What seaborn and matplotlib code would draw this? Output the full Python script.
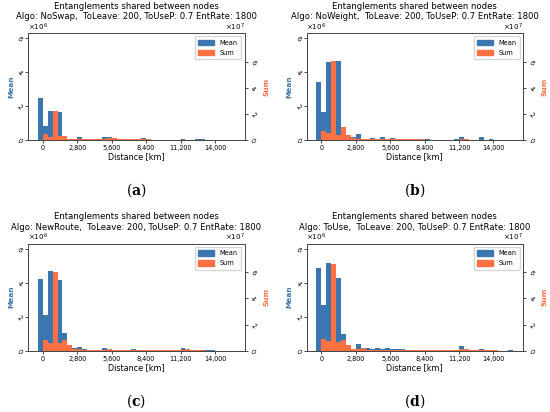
import numpy as np
import pandas as pd
import matplotlib
matplotlib.use("Agg")
import matplotlib.pyplot as plt
import seaborn as sns
from matplotlib.patches import Patch
from matplotlib.ticker import FuncFormatter

# ---------------- data ----------------
bin_width = 400
bin_edges = [float(v) for v in np.arange(-400, 15600 + 1, bin_width)]   # 40 bins
bin_centers = [e + bin_width / 2 for e in bin_edges[:-1]]

x_ticks = [0, 2800, 5600, 8400, 11200, 14000]

algos = ["NoSwap", "NoWeight", "NewRoute", "ToUse"]
panel_tags = ["a", "b", "c", "d"]

# Mean (x1e6) per 400 km bin
mean_noswap = [2.45, 0.82, 1.70, 1.65, 1.66, 0.10, 0.05, 0.08, 0.16, 0.04,
               0.06, 0.08, 0.03, 0.15, 0.15, 0.06, 0.06, 0.04, 0.05, 0.07,
               0.02, 0.12, 0.03, 0.02, 0.02, 0.02, 0.01, 0.01, 0.02, 0.03,
               0.02, 0.02, 0.08, 0.04, 0.01, 0.02, 0.01, 0.00, 0.00, 0.00]
mean_noweight = [3.40, 1.62, 4.58, 4.40, 4.68, 0.30, 0.20, 0.20, 0.38, 0.05,
                 0.06, 0.10, 0.05, 0.15, 0.05, 0.12, 0.04, 0.05, 0.04, 0.03,
                 0.03, 0.03, 0.03, 0.02, 0.02, 0.02, 0.02, 0.02, 0.03, 0.15,
                 0.03, 0.02, 0.02, 0.15, 0.02, 0.03, 0.01, 0.00, 0.00, 0.00]
mean_newroute = [4.20, 2.09, 4.66, 4.50, 4.13, 1.05, 0.20, 0.16, 0.24, 0.08,
                 0.06, 0.06, 0.03, 0.17, 0.08, 0.06, 0.05, 0.05, 0.04, 0.08,
                 0.02, 0.02, 0.02, 0.02, 0.02, 0.02, 0.02, 0.02, 0.02, 0.17,
                 0.04, 0.02, 0.02, 0.05, 0.02, 0.02, 0.01, 0.01, 0.00, 0.00]
mean_touse = [4.88, 2.66, 5.15, 4.90, 4.25, 1.00, 0.15, 0.12, 0.40, 0.10,
              0.14, 0.08, 0.14, 0.10, 0.14, 0.08, 0.12, 0.08, 0.06, 0.06,
              0.04, 0.05, 0.04, 0.03, 0.03, 0.03, 0.02, 0.02, 0.03, 0.27,
              0.06, 0.02, 0.04, 0.08, 0.02, 0.04, 0.06, 0.01, 0.00, 0.03]

# Sum (x1e7) per 400 km bin
sum_noswap = [0.00, 0.45, 0.25, 2.25, 0.30, 0.30, 0.08, 0.05, 0.10, 0.06,
              0.05, 0.05, 0.04, 0.10, 0.15, 0.12, 0.06, 0.05, 0.05, 0.05,
              0.04, 0.06, 0.04, 0.03, 0.03, 0.02, 0.02, 0.02, 0.02, 0.03,
              0.02, 0.02, 0.03, 0.02, 0.01, 0.01, 0.01, 0.01, 0.00, 0.00]
sum_noweight = [0.00, 0.68, 0.52, 6.02, 0.42, 1.00, 0.38, 0.12, 0.10, 0.10,
                0.05, 0.06, 0.05, 0.06, 0.06, 0.05, 0.05, 0.05, 0.04, 0.04,
                0.04, 0.04, 0.03, 0.03, 0.03, 0.02, 0.02, 0.02, 0.02, 0.05,
                0.10, 0.02, 0.02, 0.02, 0.01, 0.01, 0.01, 0.01, 0.00, 0.00]
sum_newroute = [0.00, 0.82, 0.62, 6.02, 0.62, 0.82, 0.47, 0.15, 0.10, 0.07,
                0.06, 0.05, 0.04, 0.07, 0.10, 0.05, 0.05, 0.05, 0.05, 0.05,
                0.04, 0.04, 0.03, 0.03, 0.03, 0.02, 0.02, 0.02, 0.02, 0.05,
                0.12, 0.02, 0.02, 0.02, 0.01, 0.01, 0.01, 0.01, 0.00, 0.00]
sum_touse = [0.00, 0.90, 0.77, 6.63, 0.64, 0.82, 0.43, 0.10, 0.12, 0.20,
             0.08, 0.06, 0.05, 0.05, 0.08, 0.06, 0.05, 0.05, 0.04, 0.04,
             0.04, 0.04, 0.03, 0.03, 0.03, 0.02, 0.02, 0.02, 0.02, 0.10,
             0.12, 0.02, 0.02, 0.03, 0.02, 0.02, 0.02, 0.01, 0.00, 0.00]

means = [mean_noswap, mean_noweight, mean_newroute, mean_touse]
sums = [sum_noswap, sum_noweight, sum_newroute, sum_touse]

# ---------------- style ----------------
BLUE = "#3B76AF"
ORANGE = "#FF7043"
W, H = 550, 412
DPI = 100

plt.rcParams["font.family"] = ["DejaVu Sans"]
plt.rcParams["axes.linewidth"] = 0.6
plt.rcParams["axes.edgecolor"] = "#444444"

fig = plt.figure(figsize=(W / DPI, H / DPI), dpi=DPI)

# axes boxes in pixels: left, right, top, bottom
boxes = [(28, 244.5, 33, 140), (306.5, 523, 33, 140),
         (28, 244.5, 243.5, 350.7), (306.5, 523, 243.5, 350.7)]

xfmt = FuncFormatter(lambda v, p: f"{int(round(v)):,}")
fmt6 = FuncFormatter(lambda v, p: f"{v / 1e6:.0f}")
fmt7 = FuncFormatter(lambda v, p: f"{v / 1e7:.0f}")

for i in range(4):
    l, r, t, b = boxes[i]
    ax = fig.add_axes([l / W, 1 - b / H, (r - l) / W, (b - t) / H])
    df = pd.DataFrame({"dist": bin_centers,
                       "mean": np.array(means[i]) * 1e6,
                       "sum": np.array(sums[i]) * 1e7})
    sns.histplot(data=df, x="dist", weights="mean", bins=bin_edges, ax=ax,
                 color=BLUE, alpha=1, linewidth=0, edgecolor=BLUE)
    ax.set_ylim(0, 6.3e6)
    ax.set_xlim(-1200, 16400)
    ax.set_xticks(x_ticks)
    ax.xaxis.set_major_formatter(xfmt)
    ax.set_yticks([0, 2e6, 4e6, 6e6])
    ax.yaxis.set_major_formatter(fmt6)
    ax.tick_params(axis="x", labelsize=4.7, length=2, width=0.5, pad=1.5)
    ax.tick_params(axis="y", labelsize=4.7, length=2, width=0.5, pad=1.5,
                   labelrotation=-45)
    ax.text(0.0, 1.0, r"$\times10^{6}$", transform=ax.transAxes,
            ha="left", va="bottom", fontsize=5.1)
    ax.set_xlabel("Distance [km]", fontsize=5.8, labelpad=1)
    ax.set_ylabel("Mean", fontsize=5.3, color=BLUE, fontweight="bold",
                  labelpad=1.5)

    ax2 = ax.twinx()
    sns.histplot(data=df, x="dist", weights="sum", bins=bin_edges, ax=ax2,
                 color=ORANGE, alpha=1, linewidth=0, edgecolor=ORANGE)
    ax2.set_ylim(0, 8.2e7)
    ax2.set_xlim(-1200, 16400)
    ax2.set_yticks([0, 2e7, 4e7, 6e7])
    ax2.yaxis.set_major_formatter(fmt7)
    ax2.tick_params(axis="y", labelsize=4.7, length=2, width=0.5, pad=1.5,
                    labelrotation=-45)
    ax2.text(1.0, 1.0, r"$\times10^{7}$", transform=ax2.transAxes,
             ha="right", va="bottom", fontsize=5.1)
    ax2.set_ylabel("Sum", fontsize=5.3, color=ORANGE, fontweight="bold",
                   labelpad=5)

    handles = [Patch(color=BLUE, label="Mean"), Patch(color=ORANGE, label="Sum")]
    ax2.legend(handles=handles, loc="upper right", fontsize=4.8,
               handlelength=2.4, handleheight=0.9, borderpad=0.5,
               labelspacing=0.6, framealpha=0.8)

    cx = (l + r) / 2
    fig.text(cx / W, 1 - (t - 21.5) / H,
             "Entanglements shared between nodes\n"
             f"Algo: {algos[i]},  ToLeave: 200, ToUseP: 0.7 EntRate: 1800",
             ha="center", va="center", fontsize=6.15, linespacing=1.15)
    fig.text(cx / W, 1 - (b + 50) / H, r"($\mathbf{" + panel_tags[i] + r"}$)",
             ha="center", va="center", fontsize=10, family="DejaVu Serif",
             math_fontfamily="dejavuserif")

fig.savefig("out.png", dpi=DPI, facecolor="white")
